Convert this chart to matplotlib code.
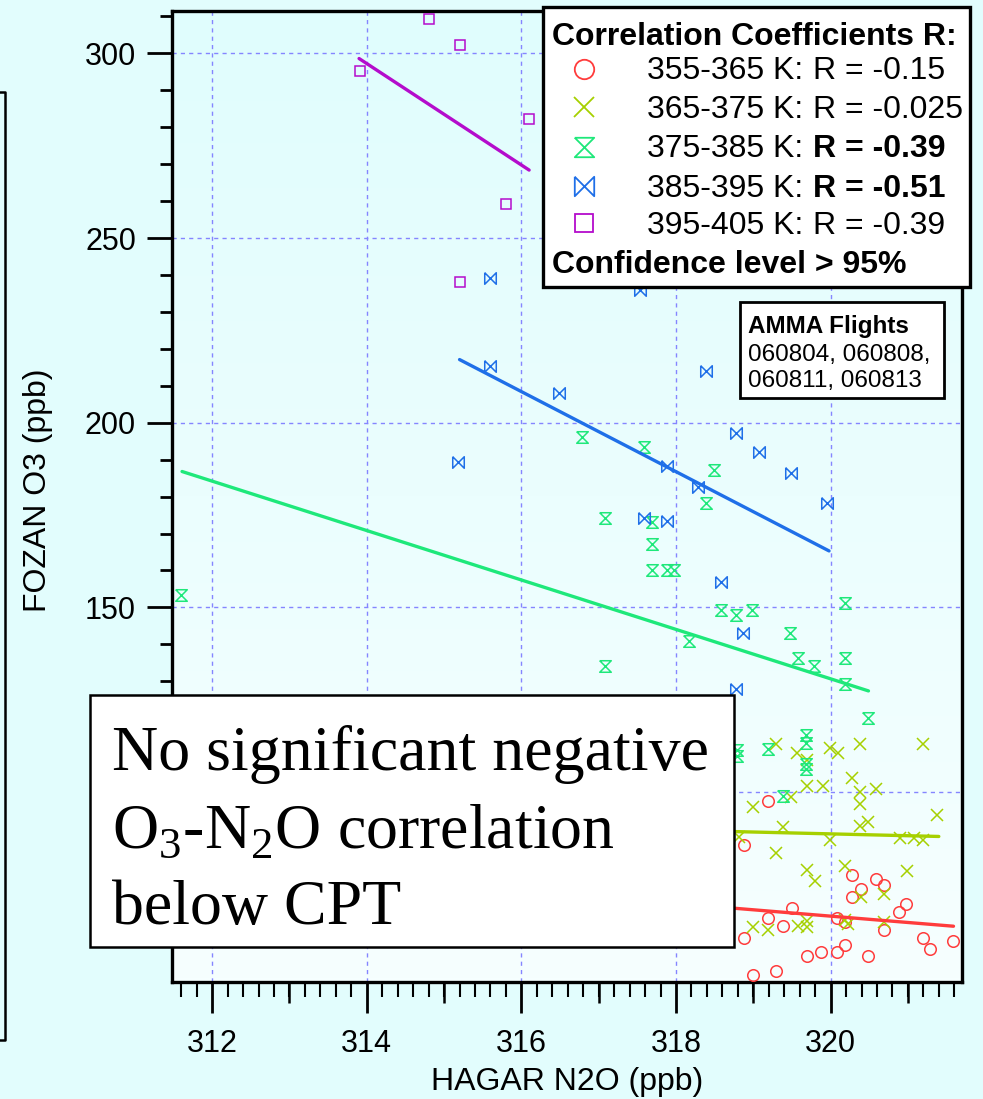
import numpy as np
import matplotlib.pyplot as plt
from matplotlib.lines import Line2D
from matplotlib.patches import Rectangle
from matplotlib.colors import LinearSegmentedColormap
from matplotlib.ticker import MultipleLocator, FixedLocator

plt.rcParams['font.family'] = ['Liberation Sans', 'DejaVu Sans']
plt.rcParams['mathtext.fontset'] = 'custom'
plt.rcParams['mathtext.rm'] = 'Liberation Serif'

# ---- data (HAGAR N2O vs FOZAN O3, by potential temperature layer) ----
x_355 = [319.19, 318.88, 320.28, 320.59, 320.69, 320.39, 320.28, 320.98, 320.88, 319.50,
         319.19, 319.39, 320.08, 320.18, 320.69, 318.88, 321.19, 321.29, 321.59, 319.69,
         319.88, 320.08, 320.18, 320.49, 318.99, 319.29]
y_355 = [97.6, 85.6, 77.5, 76.6, 74.8, 73.7, 71.6, 69.6, 67.6, 68.7,
         65.8, 63.7, 65.8, 64.8, 62.8, 60.5, 60.5, 57.5, 59.6, 55.6,
         56.7, 56.7, 58.5, 55.6, 50.4, 51.6]

x_365 = [319.29, 319.57, 319.69, 319.99, 320.09, 320.38, 321.19, 320.28, 319.69, 319.90,
         320.38, 320.59, 319.49, 320.38, 318.99, 321.38, 320.38, 320.48, 319.39, 318.81,
         319.99, 320.90, 321.08, 321.19, 319.29, 320.18, 319.69, 319.80, 320.99, 320.69,
         320.39, 318.99, 319.19, 319.58, 319.69, 319.69, 320.18, 320.22, 320.69]
y_365 = [112.9, 110.6, 108.6, 112.0, 110.7, 112.9, 112.9, 103.7, 101.7, 101.7,
         100.1, 100.8, 98.7, 96.9, 96.0, 93.7, 90.8, 91.9, 90.6, 87.9,
         87.0, 87.7, 87.7, 87.0, 83.6, 80.0, 78.8, 75.9, 78.7, 72.5,
         71.6, 63.5, 62.8, 63.7, 65.0, 63.5, 65.3, 64.2, 64.8]

x_375 = [311.60, 316.79, 317.59, 318.49, 318.39, 317.08, 317.69, 317.69, 317.69, 317.88,
         317.97, 318.58, 318.78, 318.98, 320.18, 318.17, 319.48, 319.58, 319.78, 320.18,
         320.18, 317.08, 320.49, 319.68, 318.79, 318.79, 319.19, 319.68, 319.68, 319.68,
         319.39]
y_375 = [153.3, 196.2, 193.5, 187.2, 178.2, 174.2, 173.2, 167.1, 160.1, 160.1,
         160.1, 149.3, 147.9, 149.3, 151.2, 141.0, 143.0, 136.2, 134.2, 136.2,
         129.2, 134.1, 120.1, 115.4, 111.5, 109.9, 111.8, 113.2, 107.7, 106.3,
         98.9]

x_385 = [315.59, 315.59, 316.49, 317.53, 318.39, 318.78, 319.07, 319.49, 319.95, 317.88,
         318.29, 317.59, 317.88, 318.58, 318.87, 318.78, 315.18]
y_385 = [239.1, 215.4, 208.1, 235.9, 214.1, 197.1, 192.1, 186.5, 178.2, 188.3,
         182.5, 174.1, 173.4, 156.9, 143.0, 127.9, 189.4]

x_395 = [314.80, 315.20, 313.91, 316.10, 315.80, 315.20]
y_395 = [309.3, 302.3, 295.3, 282.3, 259.3, 238.0]

# linear fit lines (end points as drawn in the original)
fit_x = {'355': [316.0, 321.59], '365': [315.0, 321.40], '375': [311.61, 320.49],
         '385': [315.20, 319.98], '395': [313.90, 316.10]}
fit_y = {'355': [73.3, 63.7], '365': [91.2, 88.0], '375': [186.8, 127.4],
         '385': [217.1, 165.3], '395': [298.6, 268.4]}

layers = ['355', '365', '375', '385', '395']
layer_names = ['355-365 K:', '365-375 K:', '375-385 K:', '385-395 K:', '395-405 K:']
r_texts = ['R = -0.15', 'R = -0.025', 'R = -0.39', 'R = -0.51', 'R = -0.39']
r_bold = [False, False, True, True, False]
flights = '060804, 060808,\n060811, 060813'
y_ticks = [100, 150, 200, 250, 300]

colors = ['#ff3c3c', '#a6d000', '#1ee87a', '#1f6fe8', '#b40ccc']
hourglass = [(-1, 1), (1, 1), (-1, -1), (1, -1), (-1, 1)]
bowtie = [(-1, 1), (-1, -1), (1, 1), (1, -1), (-1, 1)]
markers = ['o', 'x', hourglass, bowtie, 's']
xs = [x_355, x_365, x_375, x_385, x_395]
ys = [y_355, y_365, y_375, y_385, y_395]

W, H = 983, 1099
fig = plt.figure(figsize=(W / 100, H / 100), dpi=100, facecolor='#e2fdfd')
ax = fig.add_axes([172 / W, 1 - 982 / H, (962 - 172) / W, (982 - 10.5) / H])


def fx(px):
    return px / W


def fy(py):
    return 1 - py / H


# background gradient of the plot area
cmap = LinearSegmentedColormap.from_list('bg', ['#f6ffff', '#e0fdfd'])
ax.imshow(np.linspace(0, 1, 256)[:, None], cmap=cmap, origin='lower', aspect='auto',
          extent=[0, 1, 0, 1], transform=ax.transAxes, zorder=0)

for i, k in enumerate(layers):
    ms = 8.3 if markers[i] != 's' else 7
    ax.plot(xs[i], ys[i], linestyle='none', marker=markers[i], ms=ms, mfc='none',
            mec=colors[i], mew=1.1, zorder=3)
    ax.plot(fit_x[k], fit_y[k], color=colors[i], lw=2.4, zorder=4, solid_capstyle='round')

ax.set_xlim(311.48, 321.70)
ax.set_ylim(48.6, 311.6)
ax.xaxis.set_major_locator(MultipleLocator(2))
ax.xaxis.set_minor_locator(MultipleLocator(0.2))
ax.yaxis.set_major_locator(FixedLocator(y_ticks))
ax.yaxis.set_minor_locator(FixedLocator([v for v in range(60, 311, 10) if v % 50]))
ax.set_yticklabels(['' if v == 100 else str(v) for v in y_ticks])
ax.grid(True, which='major', color='#8585ff', lw=1, linestyle=(0, (3, 3)))
ax.set_axisbelow(True)
for s in ax.spines.values():
    s.set_linewidth(2.4)
ax.tick_params(axis='both', which='major', direction='out', width=2, labelsize=22)
ax.tick_params(axis='y', which='major', length=18, pad=8)
ax.tick_params(axis='y', which='minor', length=9, width=2)
ax.tick_params(axis='x', which='major', length=22, pad=12)
ax.tick_params(axis='x', which='minor', length=11, width=1.5)

# medium ticks at odd integers
sec = ax.secondary_xaxis('bottom')
sec.set_xticks([313, 315, 317, 319, 321])
sec.tick_params(length=15, width=1.8, labelbottom=False)
sec.spines['bottom'].set_visible(False)

fig.text(fx(567), fy(1090), 'HAGAR N2O (ppb)', fontsize=23, ha='center', va='baseline')
fig.text(fx(38), fy(490), 'FOZAN O3 (ppb)', fontsize=23, ha='center', va='center', rotation=90)

# legend box
fig.add_artist(Rectangle((fx(542.7), fy(287.3)), (970 - 542.7) / W, (287.3 - 6.7) / H,
                         transform=fig.transFigure, facecolor='white', edgecolor='black',
                         lw=2.4, zorder=5))
fig.text(fx(551.7), fy(45), 'Correlation Coefficients R:', fontsize=23, fontweight='bold',
         va='baseline', zorder=6)
rows_mk = [69.3, 106.7, 146.7, 186, 223.3]
rows_bl = [79, 118.3, 156.7, 196.7, 234.3]
for i in range(5):
    fig.add_artist(Line2D([fx(584)], [fy(rows_mk[i])], transform=fig.transFigure,
                          marker=markers[i], ms=14 if markers[i] != 's' else 12.5,
                          mfc='none', mec=colors[i], mew=1.3, linestyle='none', zorder=6))
    fig.text(fx(646.7), fy(rows_bl[i]), layer_names[i], fontsize=23, va='baseline', zorder=6)
    fig.text(fx(813.3), fy(rows_bl[i]), r_texts[i], fontsize=23, va='baseline', zorder=6,
             fontweight='bold' if r_bold[i] else 'normal')
fig.text(fx(551.7), fy(273.3), 'Confidence level > 95%', fontsize=23, fontweight='bold',
         va='baseline', zorder=6)

# flights box
fig.add_artist(Rectangle((fx(740), fy(398.3)), (944.3 - 740) / W, (398.3 - 301.7) / H,
                         transform=fig.transFigure, facecolor='white', edgecolor='black',
                         lw=2, zorder=5))
fig.text(fx(748.3), fy(333.3), 'AMMA Flights', fontsize=17.5, fontweight='bold',
         va='baseline', zorder=6)
fig.text(fx(748.3), fy(361), flights.split('\n')[0], fontsize=17.5, va='baseline', zorder=6)
fig.text(fx(748.3), fy(386.7), flights.split('\n')[1], fontsize=17.5, va='baseline', zorder=6)

# annotation box
fig.add_artist(Rectangle((fx(90), fy(947)), (734 - 90) / W, (947 - 695) / H,
                         transform=fig.transFigure, facecolor='white', edgecolor='black',
                         lw=1.8, zorder=5))
serif = {'family': 'Liberation Serif', 'size': 46}
fig.text(fx(112), fy(770), 'No significant negative', fontdict=serif, va='baseline', zorder=6)
fig.text(fx(112), fy(847), r'O$_\mathrm{3}$-N$_\mathrm{2}$O correlation', fontdict=serif,
         va='baseline', zorder=6)
fig.text(fx(112), fy(924), 'below CPT', fontdict=serif, va='baseline', zorder=6)

# edge of neighbouring panel
fig.add_artist(Line2D([0, fx(5), fx(5), 0], [fy(92), fy(92), fy(1040), fy(1040)],
                      transform=fig.transFigure, color='black', lw=1.8))

fig.savefig('out.png', dpi=100, facecolor=fig.get_facecolor())
